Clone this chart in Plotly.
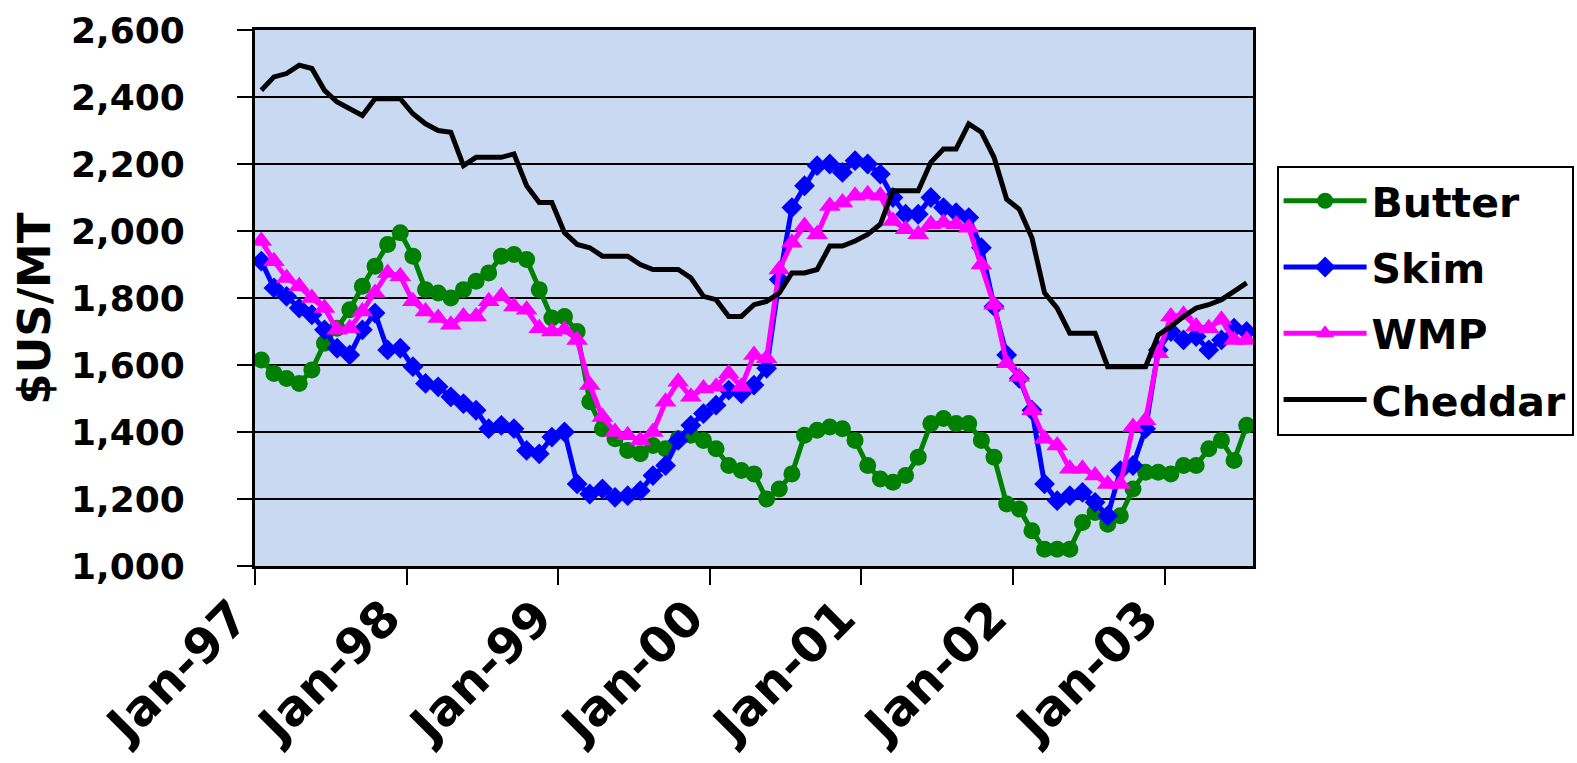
import plotly.graph_objects as go

months = list(range(79))  # Jan-97 .. Jul-03, monthly categories
year_labels = ["Jan-97", "Jan-98", "Jan-99", "Jan-00", "Jan-01", "Jan-02", "Jan-03"]
year_label_pos = [0, 12, 24, 36, 48, 60, 72]
year_tick_pos = [-0.5, 11.5, 23.5, 35.5, 47.5, 59.5, 71.5]

butter = [1615, 1575, 1560, 1545, 1585, 1665, 1710, 1765, 1835, 1895, 1960, 1995,
          1925, 1825, 1815, 1800, 1825, 1850, 1875, 1925, 1930, 1915, 1825, 1740,
          1745, 1700, 1490, 1410, 1380, 1345, 1335, 1360, 1350, 1380, 1390, 1375,
          1350, 1300, 1285, 1275, 1200, 1230, 1275, 1390, 1405, 1415, 1410, 1375,
          1300, 1260, 1250, 1270, 1325, 1425, 1440, 1425, 1425, 1375, 1325, 1185,
          1170, 1105, 1050, 1050, 1050, 1130, 1160, 1125, 1150, 1230, 1280, 1280,
          1275, 1300, 1300, 1350, 1375, 1315, 1420]

skim = [1910, 1830, 1805, 1770, 1750, 1705, 1650, 1630, 1705, 1755, 1645, 1650,
        1595, 1545, 1535, 1505, 1485, 1465, 1410, 1420, 1410, 1345, 1335, 1385,
        1400, 1245, 1215, 1230, 1205, 1210, 1225, 1270, 1300, 1375, 1420, 1455,
        1480, 1525, 1515, 1540, 1590, 1855, 2070, 2135, 2195, 2200, 2175, 2210,
        2200, 2170, 2100, 2050, 2050, 2100, 2070, 2055, 2040, 1950, 1775, 1630,
        1560, 1465, 1245, 1195, 1210, 1220, 1190, 1150, 1285, 1300, 1410, 1645,
        1700, 1675, 1685, 1645, 1675, 1710, 1700]

wmp = [1970, 1910, 1860, 1835, 1800, 1770, 1705, 1710, 1760, 1815, 1875, 1865,
       1790, 1760, 1740, 1720, 1745, 1745, 1790, 1805, 1775, 1765, 1710, 1700,
       1705, 1675, 1540, 1445, 1400, 1390, 1375, 1400, 1490, 1550, 1505, 1530,
       1535, 1575, 1535, 1630, 1620, 1885, 1965, 2015, 1990, 2075, 2085, 2105,
       2110, 2105, 2030, 2005, 1990, 2020, 2025, 2020, 2010, 1900, 1780, 1605,
       1565, 1465, 1380, 1360, 1290, 1290, 1270, 1245, 1245, 1415, 1435, 1635,
       1745, 1750, 1715, 1710, 1735, 1675, 1675]

cheddar = [2420, 2460, 2470, 2495, 2485, 2420, 2385, 2365, 2345, 2395, 2395, 2395,
           2350, 2320, 2300, 2295, 2195, 2220, 2220, 2220, 2230, 2135, 2085, 2085,
           1995, 1960, 1950, 1925, 1925, 1925, 1900, 1885, 1885, 1885, 1860, 1805,
           1795, 1745, 1745, 1780, 1790, 1815, 1875, 1875, 1885, 1955, 1955, 1970,
           1990, 2020, 2120, 2120, 2120, 2205, 2245, 2245, 2320, 2295, 2220, 2095,
           2065, 1980, 1815, 1770, 1695, 1695, 1695, 1595, 1595, 1595, 1595, 1690,
           1715, 1745, 1770, 1780, 1795, 1820, 1845]

y_ticks = [1000, 1200, 1400, 1600, 1800, 2000, 2200, 2400, 2600]

FONT = "DejaVu Sans"

fig = go.Figure()
fig.add_trace(go.Scatter(x=months, y=butter, name="Butter", mode="lines+markers",
                         legendgroup="g1",
                         line=dict(color="#008000", width=5),
                         marker=dict(symbol="circle", size=17, color="#008000")))
fig.add_trace(go.Scatter(x=months, y=skim, name="Skim", mode="lines+markers",
                         legendgroup="g2",
                         line=dict(color="#0000FF", width=5),
                         marker=dict(symbol="diamond", size=16, color="#0000FF")))
fig.add_trace(go.Scatter(x=months, y=wmp, name="WMP", mode="lines+markers",
                         legendgroup="g3",
                         line=dict(color="#FF00FF", width=5),
                         marker=dict(symbol="triangle-up", size=19, color="#FF00FF")))
fig.add_trace(go.Scatter(x=months, y=cheddar, name="Cheddar", mode="lines",
                         legendgroup="g4",
                         line=dict(color="#000000", width=5)))

fig.update_layout(
    width=1577, height=763,
    margin=dict(l=255, r=324, t=30, b=197, autoexpand=False),
    paper_bgcolor="white",
    plot_bgcolor="#CAD9F2",
    font=dict(family=FONT, color="black", size=40, weight="bold"),
    showlegend=True,
    legend=dict(
        xref="container", yref="container",
        x=0.8095, y=0.783, xanchor="left", yanchor="top",
        bgcolor="white", bordercolor="black", borderwidth=2,
        font=dict(family=FONT, size=41, color="black", weight="bold"),
        itemwidth=83, tracegroupgap=10, traceorder="grouped",
    ),
    xaxis=dict(
        range=[-0.5, 78.5], automargin=False,
        tickmode="array", tickvals=year_label_pos, ticktext=year_labels,
        ticks="", tickangle=-45,
        tickfont=dict(family=FONT, size=49, color="black", weight="bold"),
        ticklabelstandoff=0, ticklabelshift=-27,
        showgrid=False, zeroline=False,
        showline=True, linecolor="black", linewidth=3, mirror=True,
        minor=dict(tickmode="array", tickvals=year_tick_pos, ticks="outside",
                   ticklen=16, tickwidth=2, tickcolor="black", showgrid=False),
    ),
    yaxis=dict(
        range=[1000, 2600], automargin=False,
        tickmode="array", tickvals=y_ticks,
        tickformat=",d",
        ticks="outside", ticklen=15, tickwidth=2, tickcolor="black",
        ticklabelstandoff=45,
        tickfont=dict(family=FONT, size=36, color="black", weight="bold"),
        showgrid=True, gridcolor="black", gridwidth=2,
        zeroline=False,
        showline=True, linecolor="black", linewidth=3, mirror=True,
    ),
)

fig.add_annotation(
    text="$US/MT", textangle=-90, showarrow=False,
    xref="paper", yref="paper", x=-0.221, y=0.481,
    xanchor="center", yanchor="middle",
    font=dict(family=FONT, size=45, color="black", weight="bold"),
)

fig.write_html(
    "out.html",
    config={"displayModeBar": False},
    post_script="document.body.style.margin='0';document.body.style.overflow='hidden';",
)
